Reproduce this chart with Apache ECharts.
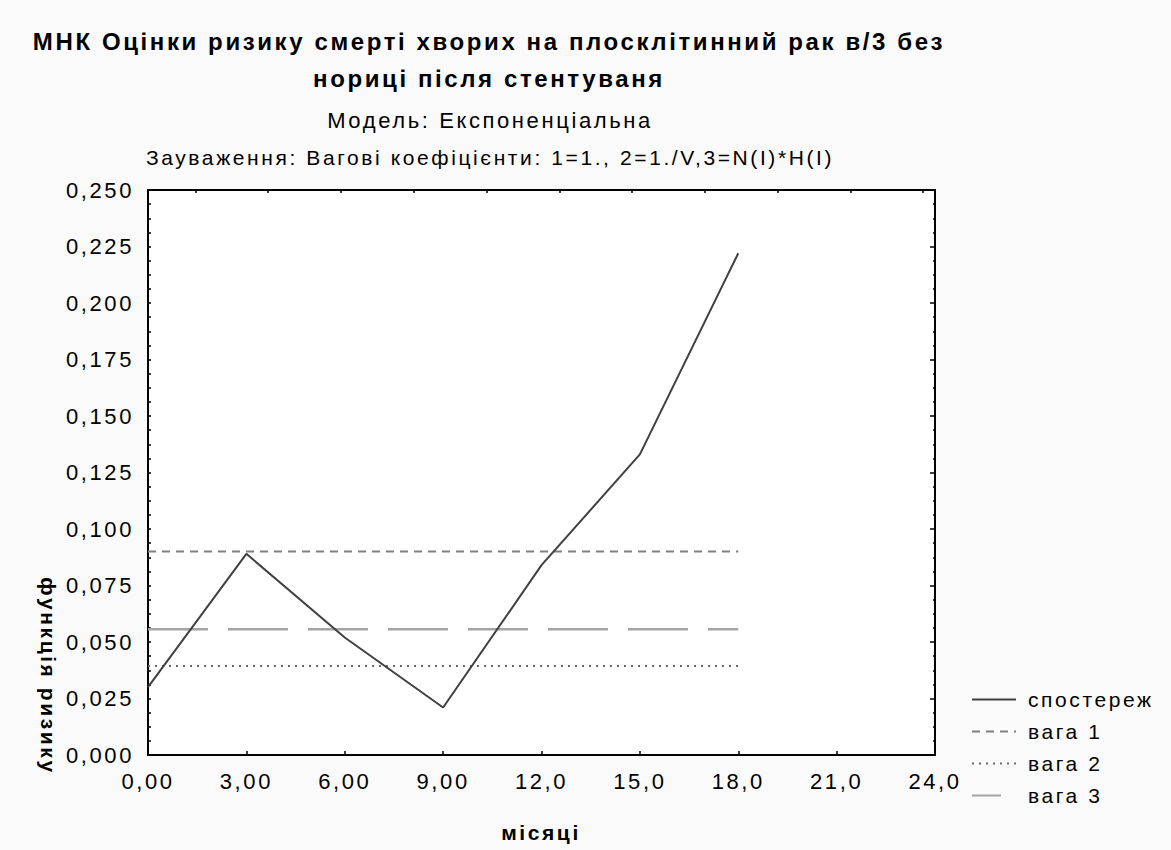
<!DOCTYPE html>
<html>
<head>
<meta charset="utf-8">
<script src="https://cdn.jsdelivr.net/npm/echarts@6/dist/echarts.min.js"></script>
<style>
  html, body { margin: 0; padding: 0; background: #fafafa; }
  #chart { width: 1171px; height: 850px; letter-spacing: 2.6px; }
</style>
</head>
<body>
<div id="chart"></div>
<script>
// ---- data ----
const months = [0, 3, 6, 9, 12, 15, 18];
const observed = [0.030, 0.089, 0.052, 0.021, 0.084, 0.133, 0.222];
const weight1 = [0.090, 0.090, 0.090, 0.090, 0.090, 0.090, 0.090];
const weight2 = [0.0394, 0.0394, 0.0394, 0.0394, 0.0394, 0.0394, 0.0394];
const weight3 = [0.0556, 0.0556, 0.0556, 0.0556, 0.0556, 0.0556, 0.0556];
const seriesNames = ['спостереж', 'вага 1', 'вага 2', 'вага 3'];
const xTickLabels = ['0,00', '3,00', '6,00', '9,00', '12,0', '15,0', '18,0', '21,0', '24,0'];
const yTickLabels = ['0,000', '0,025', '0,050', '0,075', '0,100', '0,125', '0,150', '0,175', '0,200', '0,225', '0,250'];
const topTickValues = [1.448, 3.667, 5.885, 8.104, 10.323, 12.542, 14.760, 16.979, 19.198, 21.416, 23.635];
const titleLines = ['МНК Оцінки ризику смерті хворих на плосклітинний рак в/3 без', 'нориці після стентуваня'];
const subtitle = 'Модель: Експоненціальна';
const note = 'Зауваження: Вагові коефіцієнти: 1=1., 2=1./V,3=N(I)*H(I)';
const xName = 'місяці';
const yName = 'функція ризику';

const FONT = '"Liberation Sans", Arial, sans-serif';
const zip = (xs, ys) => xs.map((x, i) => [x, ys[i]]);

const chart = echarts.init(document.getElementById('chart'), null, { renderer: 'svg' });

const axisLineStyle = { show: true, onZero: false, lineStyle: { color: '#000', width: 2 } };

chart.setOption({
  animation: false,
  backgroundColor: '#fafafa',
  grid: { left: 148, right: 236, top: 190, bottom: 95, show: true, backgroundColor: '#ffffff', borderWidth: 0 },
  graphic: [
    { type: 'text', x: 489, y: 41, style: { text: titleLines[0], font: 'bold 24px ' + FONT, fill: '#000', align: 'center', verticalAlign: 'middle' } },
    { type: 'text', x: 489, y: 78, style: { text: titleLines[1], font: 'bold 24px ' + FONT, fill: '#000', align: 'center', verticalAlign: 'middle' } },
    { type: 'text', x: 490, y: 120, style: { text: subtitle, font: '22px ' + FONT, fill: '#000', align: 'center', verticalAlign: 'middle' } },
    { type: 'text', x: 490, y: 157, style: { text: note, font: '21px ' + FONT, fill: '#000', align: 'center', verticalAlign: 'middle' } },
    { type: 'text', x: 541, y: 832, style: { text: xName, font: 'bold 21px ' + FONT, fill: '#000', align: 'center', verticalAlign: 'middle' } },
    { type: 'text', x: 48, y: 676, rotation: -Math.PI / 2, style: { text: yName, font: 'bold 21px ' + FONT, fill: '#000', align: 'center', verticalAlign: 'middle' } }
  ],
  legend: {
    orient: 'vertical',
    left: 971,
    top: 689,
    padding: 0,
    itemWidth: 44,
    itemHeight: 14,
    itemGap: 11,
    itemStyle: { opacity: 0, color: 'rgba(0,0,0,0)', borderWidth: 0 },
    textStyle: { fontFamily: FONT, fontSize: 21, color: '#000', padding: [0, 0, 0, 7] },
    data: [
      { name: seriesNames[0] },
      { name: seriesNames[1] },
      { name: seriesNames[2] },
      { name: seriesNames[3], lineStyle: { type: [29, 100] } }
    ]
  },
  xAxis: [
    {
      type: 'value', position: 'bottom', min: 0, max: 24, interval: 3,
      axisLine: axisLineStyle,
      axisTick: { show: true, inside: true, length: 4, lineStyle: { color: '#000', width: 1.5 } },
      axisLabel: { margin: 15, color: '#000', fontFamily: FONT, fontSize: 22,
        formatter: v => xTickLabels[Math.round(v / 3)] },
      splitLine: { show: false }
    },
    {
      type: 'value', position: 'top', min: 0, max: 24, interval: 3,
      axisLine: axisLineStyle,
      axisTick: { show: true, inside: true, length: 3, customValues: topTickValues, lineStyle: { color: '#000', width: 1.5 } },
      axisLabel: { show: false },
      splitLine: { show: false }
    }
  ],
  yAxis: [
    {
      type: 'value', position: 'left', min: 0, max: 0.25, interval: 0.025,
      axisLine: axisLineStyle,
      axisTick: { show: true, inside: true, length: 3, lineStyle: { color: '#000', width: 1.5 } },
      minorTick: { show: true, splitNumber: 4, length: 3, lineStyle: { color: '#000', width: 1.5 } },
      axisLabel: { margin: 14, color: '#000', fontFamily: FONT, fontSize: 22,
        formatter: v => yTickLabels[Math.round(v / 0.025)] },
      splitLine: { show: false }
    },
    {
      type: 'value', position: 'right', min: 0, max: 0.25, interval: 0.025,
      axisLine: axisLineStyle,
      axisTick: { show: true, inside: true, length: 5, lineStyle: { color: '#000', width: 1.5 } },
      minorTick: { show: true, splitNumber: 4, length: 2, lineStyle: { color: '#000', width: 1.5 } },
      axisLabel: { show: false },
      splitLine: { show: false }
    }
  ],
  series: [
    { name: seriesNames[1], type: 'line', data: zip(months, weight1), symbol: 'none', silent: true,
      lineStyle: { color: '#808080', width: 2, type: [8, 6] }, itemStyle: { color: '#808080' } },
    { name: seriesNames[2], type: 'line', data: zip(months, weight2), symbol: 'none', silent: true,
      lineStyle: { color: '#6a6a6a', width: 2, type: [2, 5] }, itemStyle: { color: '#6a6a6a' } },
    { name: seriesNames[3], type: 'line', data: zip(months, weight3), symbol: 'none', silent: true,
      lineStyle: { color: '#a4a4a4', width: 2.5, type: [60, 20] }, itemStyle: { color: '#a4a4a4' } },
    { name: seriesNames[0], type: 'line', data: zip(months, observed), symbol: 'none', silent: true,
      lineStyle: { color: '#404040', width: 2 }, itemStyle: { color: '#404040' }, z: 5 }
  ]
});
</script>
</body>
</html>
